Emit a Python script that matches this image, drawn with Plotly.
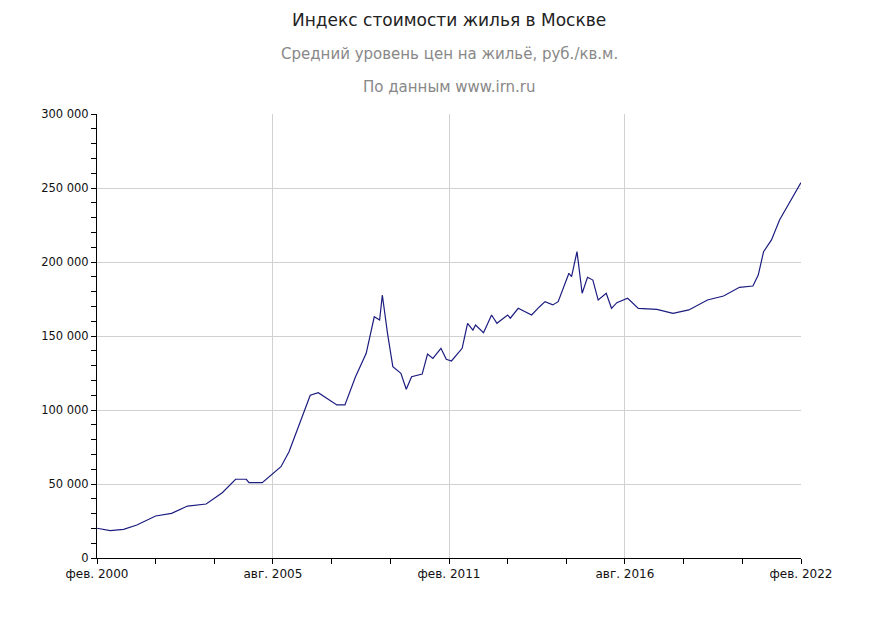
import plotly.graph_objects as go

dates = ["2000-02","2000-07","2000-12","2001-05","2001-12","2002-06","2002-12","2003-07","2004-01","2004-06",
         "2004-10","2004-11","2005-04","2005-08","2005-11","2006-02","2006-06","2006-10","2007-01","2007-05",
         "2007-08","2007-11","2008-03","2008-07","2008-10","2008-12","2009-01","2009-03","2009-05","2009-08",
         "2009-10","2009-12","2010-04","2010-06","2010-08","2010-11","2011-01","2011-03","2011-07","2011-09",
         "2011-11","2011-12","2012-03","2012-06","2012-08","2012-12","2013-01","2013-04","2013-09","2013-12",
         "2014-02","2014-05","2014-07","2014-11","2014-12","2015-02","2015-03","2015-04","2015-06","2015-08",
         "2015-10","2016-01","2016-03","2016-05","2016-09","2017-01","2017-08","2018-02","2018-08","2019-03",
         "2019-09","2020-03","2020-08","2020-10","2020-12","2021-03","2021-06","2021-10","2022-02"]
prices = [20100,18500,19400,22300,28400,30200,35100,36500,44100,53200,
          53200,50900,50900,56800,61700,71800,91000,110000,111700,106800,
          103400,103400,122500,138300,163000,160800,177700,151800,129300,124800,
          114000,122500,124300,137800,134900,141700,134300,133100,141700,158600,
          154000,157400,152200,164200,158600,164200,162000,168700,164200,169800,
          173200,171000,173200,192400,190100,207000,194600,178900,189700,187800,
          174300,178900,168700,172500,175500,168700,168000,165300,167600,174300,
          177000,182900,183800,191200,207000,214900,228400,240700,253600]

x_tickvals = ["2000-02-01","2005-08-01","2011-02-01","2016-08-01","2022-02-01"]
x_ticktext = ["фев. 2000","авг. 2005","фев. 2011","авг. 2016","фев. 2022"]
y_tickvals = [0,50000,100000,150000,200000,250000,300000]
y_ticktext = ["0","50 000","100 000","150 000","200 000","250 000","300 000"]

title = "Индекс стоимости жилья в Москве"
subtitle1 = "Средний уровень цен на жильё, руб./кв.м."
subtitle2 = "По данным www.irn.ru"

H = 444.0
fig = go.Figure(go.Scatter(x=[d+"-01" for d in dates], y=prices, mode="lines",
                           line=dict(color="#1c1c80", width=1.2)))
fig.update_layout(
    width=895, height=627, plot_bgcolor="white", paper_bgcolor="white",
    margin=dict(l=89, r=102, t=106, b=77), showlegend=False,
    font=dict(family="DejaVu Sans", size=11, color="#111"),
    annotations=[
        dict(text=title, x=0.5, y=1+94/H, xref="paper", yref="paper", showarrow=False,
             xanchor="center", yanchor="middle", font=dict(size=17, color="#222")),
        dict(text=subtitle1, x=0.5, y=1+60/H, xref="paper", yref="paper", showarrow=False,
             xanchor="center", yanchor="middle", font=dict(size=15, color="#888")),
        dict(text=subtitle2, x=0.5, y=1+27/H, xref="paper", yref="paper", showarrow=False,
             xanchor="center", yanchor="middle", font=dict(size=15, color="#888")),
    ],
)
fig.update_xaxes(type="date", range=["2000-02-01","2022-02-01"], tickvals=x_tickvals, ticktext=x_ticktext,
                 showgrid=True, gridcolor="#d0d0d0", showline=True, linecolor="black", linewidth=1,
                 ticks="outside", ticklen=5, tickcolor="black", zeroline=False, tickfont=dict(size=12),
                 minor=dict(ticks="outside", ticklen=5, tickcolor="black", dtick="M22", tick0="2000-02-01", showgrid=False))
fig.update_yaxes(range=[0,300000], tickvals=y_tickvals, ticktext=y_ticktext,
                 showgrid=True, gridcolor="#d0d0d0", showline=True, linecolor="black", linewidth=1,
                 ticks="outside", ticklen=5, tickcolor="black", zeroline=False, tickfont=dict(size=11.5),
                 minor=dict(ticks="outside", ticklen=5, tickcolor="black", dtick=10000, showgrid=False))
fig.write_html("out.html")
